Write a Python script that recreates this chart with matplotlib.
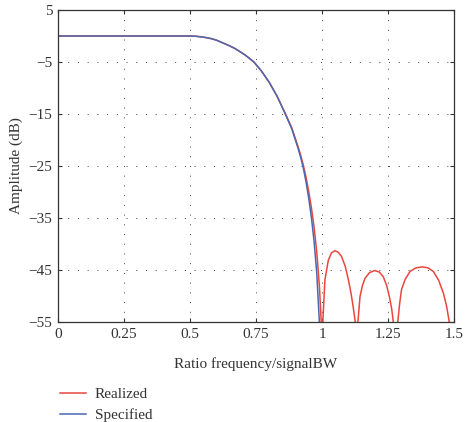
import matplotlib
matplotlib.use("Agg")
import matplotlib.pyplot as plt

plt.rcParams['font.family'] = ['Liberation Serif', 'DejaVu Serif']

# Specified response
spec_x = [0, 0.1, 0.2, 0.3, 0.4, 0.5, 0.52, 0.54, 0.56, 0.58, 0.6, 0.614, 0.63, 0.65,
          0.67, 0.689, 0.71, 0.725, 0.742, 0.77, 0.80, 0.83, 0.86, 0.885, 0.91,
          0.92, 0.93, 0.94, 0.95, 0.96, 0.97, 0.98, 0.99, 0.996]
spec_y = [0, 0, 0, 0, 0, 0, -0.04, -0.15, -0.3, -0.5, -0.8, -1.1, -1.45, -1.9,
          -2.4, -3.0, -3.7, -4.3, -5.0, -6.7, -8.9, -11.6, -14.9, -17.8, -21.7,
          -23.5, -25.6, -28.2, -31.3, -35.0, -39.5, -45.5, -55.0, -75.0]

# Realized response
real_x = [0, 0.1, 0.2, 0.3, 0.4, 0.5, 0.52, 0.54, 0.56, 0.58, 0.6, 0.614, 0.63, 0.65,
          0.67, 0.689, 0.71, 0.725, 0.742, 0.77, 0.80, 0.83, 0.86, 0.885, 0.91,
          0.92, 0.93, 0.94, 0.95, 0.96, 0.97, 0.98, 0.99, 0.997, 1.0, 1.003,
          1.011, 1.024, 1.036, 1.049, 1.062, 1.074, 1.088, 1.100, 1.110, 1.118, 1.126,
          1.131, 1.136,
          1.144, 1.153, 1.163, 1.180, 1.200, 1.217, 1.232, 1.245, 1.255, 1.264, 1.270,
          1.279, 1.287,
          1.294, 1.301, 1.315, 1.333, 1.355, 1.381, 1.402, 1.422, 1.442, 1.460, 1.472,
          1.482, 1.492, 1.5]
real_y = [0, 0, 0, 0, 0, 0, -0.04, -0.15, -0.3, -0.5, -0.8, -1.1, -1.45, -1.9,
          -2.4, -3.0, -3.7, -4.3, -5.0, -6.7, -8.9, -11.6, -14.8, -17.6, -21.4,
          -23.1, -25.0, -27.3, -30.0, -33.1, -36.8, -41.5, -48.0, -55.0, -75.0, -55.0,
          -46.9, -43.1, -41.7, -41.3, -41.6, -42.4, -44.3, -46.9, -49.5, -52.1, -55.0,
          -75.0, -55.0,
          -50.1, -48.0, -46.6, -45.5, -45.1, -45.4, -46.3, -48.0, -50.1, -52.5, -55.0,
          -75.0, -55.0,
          -51.5, -48.8, -46.8, -45.3, -44.6, -44.4, -44.6, -45.3, -47.0, -49.5, -52.0,
          -55.0, -75.0, -62.0]

xticks = [0, 0.25, 0.5, 0.75, 1, 1.25, 1.5]
xtick_labels = ["0", "0.25", "0.5", "0.75", "1", "1.25", "1.5"]
yticks = [5, -5, -15, -25, -35, -45, -55]
ytick_labels = ["5", "\u22125", "\u221215", "\u221225", "\u221235", "\u221245", "\u221255"]

fig = plt.figure(figsize=(4.67, 4.22), dpi=100)
ax = fig.add_axes([0.1242, 0.237, 0.848, 0.7393])

ax.plot(real_x, real_y, color='#e8473e', lw=1.1, label='Realized')
ax.plot(spec_x, spec_y, color='#4a68b0', lw=1.1, label='Specified')

ax.set_xlim(0, 1.5)
ax.set_ylim(-55, 5)
ax.set_xticks(xticks)
ax.set_xticklabels(xtick_labels)
ax.set_yticks(yticks)
ax.set_yticklabels(ytick_labels)
ax.tick_params(direction='in', top=True, right=True, length=3, width=0.8,
               labelsize=11, colors='#333333', pad=4)
ax.grid(True, color='#444444', lw=0.7, linestyle=(0, (1, 9)))
for s in ax.spines.values():
    s.set_color('#333333')
    s.set_linewidth(0.9)

ax.set_xlabel('Ratio frequency/signalBW', fontsize=11, color='#333333', labelpad=12)
ax.set_ylabel('Amplitude (dB)', fontsize=11, color='#333333', labelpad=4)

fig.legend(loc='upper left', bbox_to_anchor=(0.102, 0.111), frameon=False,
           fontsize=11, handlelength=1.7, handletextpad=0.6, labelspacing=0.5,
           borderpad=0.3, labelcolor='#333333')

fig.savefig('out.png', dpi=100)
